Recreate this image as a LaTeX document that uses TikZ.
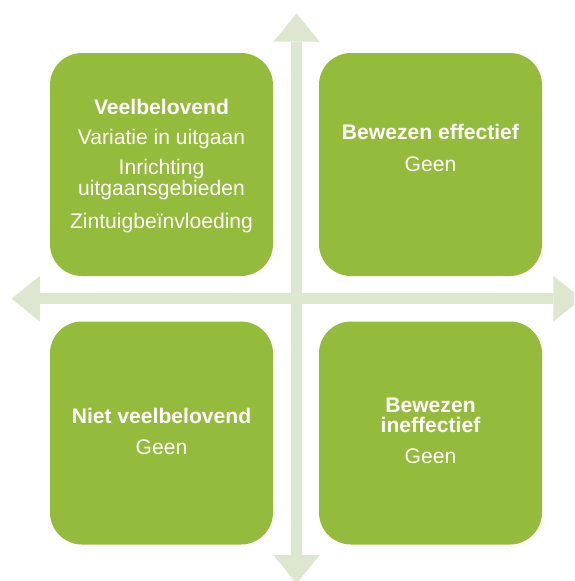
\documentclass[tikz,border=0pt]{standalone}
\usepackage{fontspec}
\setmainfont{Liberation Sans}
\usepackage{xcolor}
\usetikzlibrary{arrows.meta}
\definecolor{boxgreen}{RGB}{149,187,60}
\definecolor{axisgreen}{RGB}{221,230,207}

\begin{document}
\begin{tikzpicture}[
    x=1pt, y=-1pt,
    quad/.style={fill=boxgreen, minimum width=223pt, minimum height=223pt, rounded corners=32pt, inner sep=0pt},
    quadtext/.style={anchor=north, align=center, text=white, inner sep=0pt, font=\fontsize{21.1}{20.7}\selectfont},
    axis/.style={draw=axisgreen, line width=11.5pt, {Triangle[length=28.4pt, width=46pt, line width=0pt]}-{Triangle[length=28.4pt, width=46pt, line width=0pt]}}
]
    \useasboundingbox (0,0) rectangle (574,581);
    \clip (0,0) rectangle (574,581);

    % Axes
    \coordinate (north) at (296.5,13.3);
    \coordinate (south) at (296.5,583.5);
    \coordinate (west) at (11.7,298.7);
    \coordinate (east) at (581.7,298.7);
    \draw[axis] (west) -- (east);
    \draw[axis] (north) -- (south);

    % Quadrants
    \node[quad] (promising) at (161.5,164.5) {};
    \node[quad] (proven) at (430.5,164.5) {};
    \node[quad] (notpromising) at (161.5,433) {};
    \node[quad] (ineffective) at (430.5,433) {};

    % Quadrant texts
    \node[quadtext] (promisingtext) at (161.5,99) {\textbf{Veelbelovend}\\[9.3pt] Variatie in uitgaan\\[9.6pt] Inrichting\\ uitgaansgebieden\\[12.7pt] Zintuigbeïnvloeding};
    \node[quadtext] (proventext) at (430.5,124.4) {\textbf{Bewezen effectief}\\[11pt] Geen};
    \node[quadtext] (notpromisingtext) at (161.5,408.4) {\textbf{Niet veelbelovend}\\[10.3pt] Geen};
    \node[quadtext] (ineffectivetext) at (430.5,397.4) {\textbf{Bewezen}\\ \textbf{ineffectief}\\[10.3pt] Geen};
\end{tikzpicture}
\end{document}
